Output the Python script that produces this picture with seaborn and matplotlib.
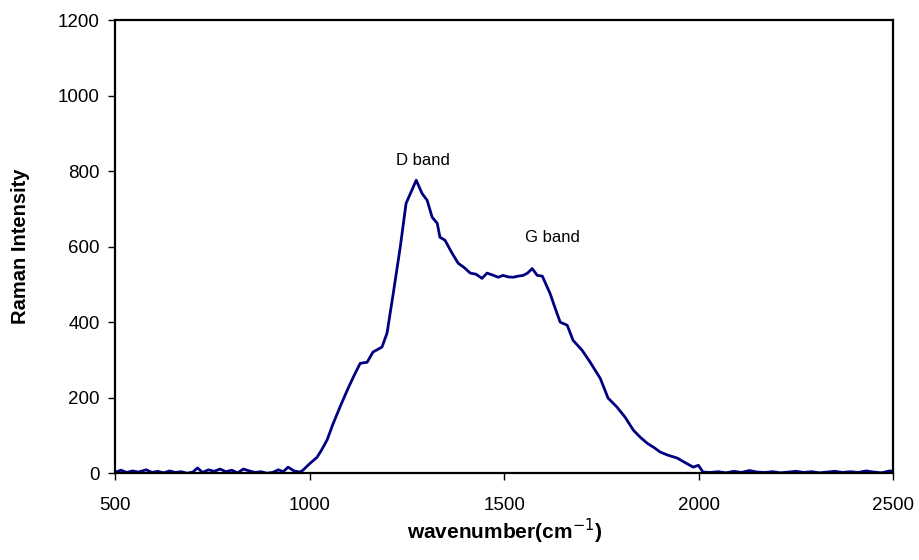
import numpy as np
import pandas as pd
import seaborn as sns
import matplotlib.pyplot as plt

# spectrum
wavenumber = [500, 515, 530, 545, 560, 580, 595, 610, 625, 640, 655, 670, 685, 700,
              712, 725, 740, 755, 770, 785, 800, 815, 830, 845, 860, 875, 890, 905,
              920, 932, 945, 960, 975, 983, 1000, 1019, 1030, 1045, 1060, 1078, 1099,
              1115, 1130, 1148, 1163, 1186, 1199, 1215, 1233, 1248, 1263, 1274, 1289,
              1302, 1315, 1328, 1335, 1348, 1366, 1382, 1397, 1413, 1428, 1443, 1456,
              1470, 1485, 1497, 1510, 1523, 1536, 1549, 1560, 1572, 1585, 1598, 1618,
              1630, 1644, 1662, 1677, 1700, 1721, 1747, 1767, 1790, 1811, 1832, 1850,
              1868, 1885, 1901, 1920, 1945, 1965, 1986, 1999, 2011, 2030, 2050, 2070,
              2090, 2110, 2130, 2150, 2170, 2190, 2210, 2230, 2250, 2270, 2290, 2310,
              2330, 2350, 2370, 2390, 2410, 2430, 2450, 2470, 2490, 2500]
intensity = [2, 8, 2, 6, 3, 9, 2, 5, 1, 6, 2, 4, 0, 3,
             14, 2, 9, 5, 11, 4, 8, 1, 11, 6, 2, 4, 0, 2,
             9, 4, 16, 6, 3, 8, 25, 42, 60, 88, 130, 175, 225,
             260, 291, 294, 321, 334, 371, 476, 599, 715, 750, 776, 741,
             723, 678, 662, 625, 617, 583, 556, 545, 530, 527, 516, 530,
             525, 519, 524, 520, 519, 522, 524, 530, 542, 524, 522, 476,
             440, 400, 392, 352, 326, 294, 251, 199, 175, 148, 114, 95,
             79, 68, 56, 48, 40, 28, 16, 21, 3, 2, 4, 1,
             5, 2, 7, 3, 2, 4, 1, 3, 5, 2, 4, 1,
             3, 5, 2, 4, 2, 6, 3, 1, 6, 5]

bands = ["D band", "G band"]
band_x = [1222, 1554]
band_y = [829, 625]

df = pd.DataFrame({"wavenumber": wavenumber, "intensity": intensity})

sns.set_style("ticks")
plt.rcParams["font.family"] = ["Liberation Sans", "DejaVu Sans"]
plt.rcParams["text.color"] = "black"
plt.rcParams["xtick.color"] = "black"
plt.rcParams["ytick.color"] = "black"
plt.rcParams["axes.labelcolor"] = "black"

fig = plt.figure(figsize=(9.2, 5.6), dpi=100)
ax = fig.add_axes([0.125, 0.155, 0.846, 0.809])
sns.lineplot(data=df, x="wavenumber", y="intensity", color="#000080",
             linewidth=2.0, ax=ax)

for name, bx, by in zip(bands, band_x, band_y):
    ax.text(bx, by, name, fontsize=12, va="center", ha="left")

ax.set_xlim(500, 2500)
ax.set_ylim(0, 1200)
ax.set_xticks([500, 1000, 1500, 2000, 2500])
ax.set_yticks(range(0, 1201, 200))
ax.tick_params(axis="both", labelsize=13.5, direction="out", length=5, width=1)
ax.tick_params(axis="x", pad=12)
ax.tick_params(axis="y", pad=6)
for s in ax.spines.values():
    s.set_linewidth(1.6)
    s.set_color("black")

ax.set_xlabel("wavenumber(cm$^{-1}$)", fontsize=15, fontweight="bold", labelpad=2)
ax.set_ylabel("Raman Intensity", fontsize=14.5, fontweight="bold", labelpad=20)

fig.savefig("out.png", dpi=100)
